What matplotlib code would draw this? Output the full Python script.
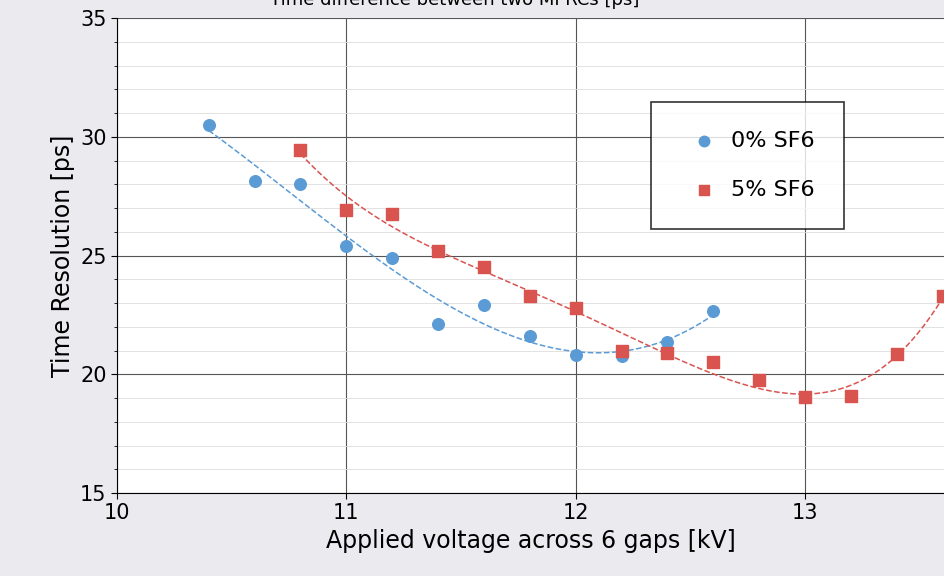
import numpy as np
import matplotlib
matplotlib.use("Agg")
import matplotlib.pyplot as plt
from matplotlib.ticker import MultipleLocator

# data
v0 = [10.4, 10.6, 10.8, 11.0, 11.2, 11.4, 11.6, 11.8, 12.0, 12.2, 12.4, 12.6]
t0 = [30.5, 28.15, 28.0, 25.4, 24.9, 22.1, 22.9, 21.6, 20.8, 20.75, 21.35, 22.65]
v5 = [10.8, 11.0, 11.2, 11.4, 11.6, 11.8, 12.0, 12.2, 12.4, 12.6, 12.8, 13.0, 13.2, 13.4, 13.6]
t5 = [29.45, 26.9, 26.75, 25.2, 24.5, 23.3, 22.8, 21.0, 20.9, 20.5, 19.75, 19.05, 19.1, 20.85, 23.3]

blue, red = "#5b9bd5", "#d9534f"

fig = plt.figure(figsize=(9.45, 5.76), dpi=100, facecolor="#ebebef")
ax = fig.add_axes([117/945, 1-493/576, 828/945, 475/576])
ax.set_xlim(10, 13.61)
ax.set_ylim(15, 35)
ax.xaxis.set_major_locator(MultipleLocator(1))
ax.yaxis.set_major_locator(MultipleLocator(5))
ax.yaxis.set_minor_locator(MultipleLocator(1))
ax.grid(which="major", color="#555555", lw=0.8)
ax.grid(which="minor", axis="y", color="#dddddd", lw=0.6)
ax.set_axisbelow(True)
for s in ["top", "right"]:
    ax.spines[s].set_visible(False)
ax.tick_params(labelsize=15, length=4)
ax.tick_params(which="minor", length=2)

# polynomial trend lines
p0 = np.polyfit(v0, t0, 3)
x0 = np.linspace(v0[0], v0[-1], 200)
ax.plot(x0, np.polyval(p0, x0), ls="--", color=blue, lw=1.1)
p5 = np.polyfit(v5, t5, 4)
x5 = np.linspace(v5[0], v5[-1], 200)
ax.plot(x5, np.polyval(p5, x5), ls="--", color=red, lw=1.1)

ax.scatter(v0, t0, s=70, color=blue, zorder=3, label="0% SF6")
ax.scatter(v5, t5, s=70, marker="s", color=red, zorder=3, label="5% SF6")

leg = ax.legend(loc="upper left", bbox_to_anchor=(534/828, 1-84/475), borderaxespad=0,
                fontsize=16, frameon=True, fancybox=False, edgecolor="black",
                borderpad=1.3, labelspacing=1.3, handletextpad=0.1, markerscale=0.9,
                handlelength=2.2)
leg.get_frame().set_linewidth(1.2)

ax.set_xlabel("Applied voltage across 6 gaps [kV]", fontsize=17)
ax.set_ylabel("Time Resolution [ps]", fontsize=17)
fig.text(455/945, 1.0, "Time difference between two MPRCs [ps]", fontsize=13,
         ha="center", va="center")

fig.savefig("out.png", dpi=100, facecolor=fig.get_facecolor())
